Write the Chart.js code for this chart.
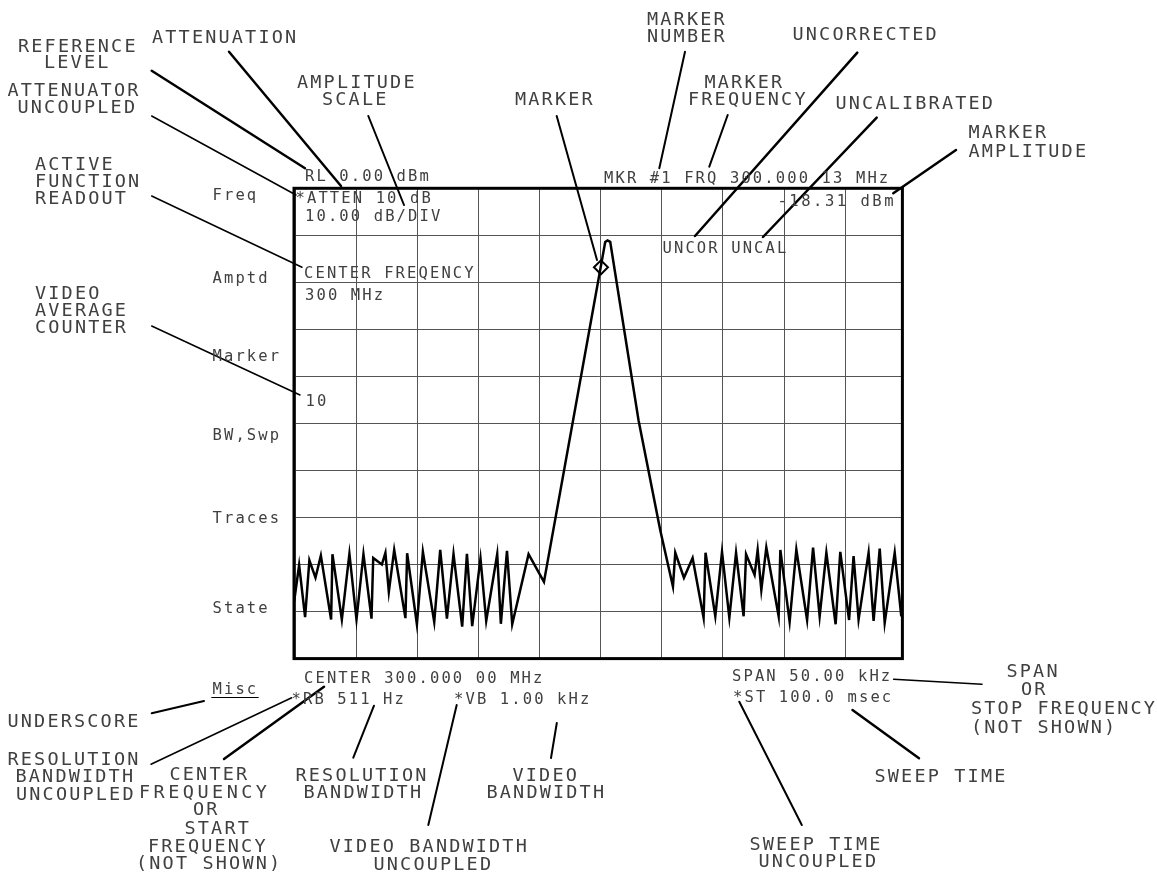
<!DOCTYPE html>
<html><head><meta charset="utf-8">
<script src="https://cdn.jsdelivr.net/npm/chart.js@4.4.1/dist/chart.umd.min.js"></script>
<style>html,body{margin:0;padding:0;background:#fff;overflow:hidden}canvas{display:block}</style>
</head><body>
<canvas id="c" width="1157" height="875" style="width:1157px;height:875px"></canvas>
<script>
// ---- data: frequency offset from 300 MHz center (kHz) and trace amplitude (dBm)
const freqOffsetKHz = [
 -25.14,-24.73,-24.24,-23.89,-23.39,-22.95,-22.11,-22.0,-21.23,-20.61,
 -20.03,-19.46,-18.8,-18.66,-17.95,-17.66,-17.38,-16.94,-16.02,-15.88,
 -15.08,-14.59,-13.66,-13.17,-12.62,-12.08,-11.37,-10.98,-10.55,-9.87,
 -9.4,-8.5,-8.2,-7.7,-7.27,-5.93,-4.67,
 0.35,0.54,0.76,1.58,3.08,4.86,5.9,
 6.09,6.8,7.51,8.41,8.57,9.37,9.92,10.52,11.07,11.69,
 11.89,12.59,12.84,13.14,13.55,14.56,14.7,15.46,16.01,16.89,
 17.38,17.92,18.47,19.23,19.61,20.33,20.7,21.11,21.93,22.34,
 22.84,23.25,24.07,24.61
];
const amplitudeDBm = [
 -87.9,-80.1,-91.2,-79.1,-82.8,-78.1,-91.7,-77.8,-91.7,-77.7,
 -91.7,-77.8,-91.5,-78.6,-80.0,-77.5,-85.8,-76.9,-91.4,-77.6,
 -92.7,-77.3,-92.2,-76.9,-91.5,-77.8,-93.2,-77.7,-93.1,-78.7,
 -92.0,-77.8,-92.6,-77.1,-92.7,-77.8,-83.7,
 -11.4,-11.1,-11.4,-24.8,-49.3,-72.7,-84.7,
 -77.5,-82.8,-78.6,-91.3,-77.5,-91.0,-77.3,-91.3,-77.5,-91.0,
 -77.8,-82.2,-76.9,-85.4,-76.4,-91.0,-76.9,-92.2,-76.8,-91.8,
 -76.4,-91.0,-77.5,-92.7,-77.3,-91.8,-78.2,-91.7,-77.5,-92.0,
 -76.6,-92.4,-77.5,-91.0
];
const markerFreqKHz = [0.0];
const markerAmpDBm = [-16.8];
const xGridTicks = [-25,-20,-15,-10,-5,0,5,10,15,20];
const yGridTicks = [-100,-90,-80,-70,-60,-50,-40,-30,-20,-10];
const xRange = [-25.15, 24.7];
const yRange = [-100, 0];

// ---- annotation layout (text, left x, baseline y, optional width)
const bigLabels = [
 ["ATTENUATION",152,43],["REFERENCE",18,52],["LEVEL",44,67.5],
 ["ATTENUATOR",7.5,96],["UNCOUPLED",17.5,113],
 ["ACTIVE",35,169.5],["FUNCTION",35,187],["READOUT",35,203.5],
 ["AMPLITUDE",297,88],["SCALE",322,105],["MARKER",515,105],
 ["MARKER",647,24.5],["NUMBER",647,41.5],
 ["MARKER",704.5,88],["FREQUENCY",688,105],
 ["UNCORRECTED",792.5,40],["UNCALIBRATED",835.5,108.5],
 ["MARKER",968.5,138],["AMPLITUDE",968.5,157],
 ["VIDEO",35,298.5],["AVERAGE",35,316],["COUNTER",35,333],
 ["UNDERSCORE",7.5,727],
 ["RESOLUTION",7.5,765],["BANDWIDTH",15.5,782],["UNCOUPLED",16,800],
 ["CENTER",169.5,780],["FREQUENCY",139,798,128],["OR",193,815],["START",184.5,833.5],["FREQUENCY",148,852],["(NOT SHOWN)",136,868.5],
 ["RESOLUTION",295.5,781],["BANDWIDTH",303.5,798],
 ["VIDEO",512.5,781],["BANDWIDTH",486.5,798],
 ["VIDEO BANDWIDTH",329.5,852],["UNCOUPLED",373.5,870],
 ["SPAN",1006.5,677],["OR",1021,695],["STOP FREQUENCY",971,714],["(NOT SHOWN)",971,732.5],
 ["SWEEP TIME",874.5,782],
 ["SWEEP TIME",749.5,849.5],["UNCOUPLED",758.5,867]
];
const screenLabels = [
 ["RL 0.00 dBm",305,181],["*ATTEN 10 dB",295.5,202.7],["10.00 dB/DIV",305,221],
 ["CENTER FREQENCY",304,277.5],["300 MHz",305,300],["10",305.5,406],
 ["MKR #1 FRQ 300.000 13 MHz",604,183.3],["-18.31 dBm",777.5,205.7,116],["UNCOR UNCAL",662.5,253.3],
 ["CENTER 300.000 00 MHz",304,683.3],["*RB 511 Hz",291.5,704.3],["*VB 1.00 kHz",454,704.3],
 ["SPAN 50.00 kHz",732,680.7],["*ST 100.0 msec",733,701.7],
 ["Freq",212.5,200],["Amptd",212.5,282.7],["Marker",212.5,361],["BW,Swp",212.5,440],
 ["Traces",212.5,522.7],["State",212.5,613.3],["Misc",212.5,694.3]
];
const leaders = [
 [151.7,70.7,305,168.3,2.5],[229,51.7,341,186,2.5],[151.7,116,296,195,1.5],[151.7,196,302,267.3,1.5],
 [368.3,116,404,205,2],[556.7,116,597,260,2],[685,51.7,659.3,168.3,2],[727.7,115,709.3,166.7,2],
 [857.3,52.7,695,236,2.5],[876.7,117.7,763,237,2.5],[956,150,893.3,193.3,2.5],
 [151.7,326,300,395,1.5],[151.7,713.3,204,701,2],[151,764.3,291.7,697.7,1.5],
 [224,759,324,686.7,2.5],[353.3,757.7,374,705.7,2],[428.3,825,456.7,705,2],[551,758,556.8,723,2],
 [893.6,679.3,982,684.3,1.5],[739.3,701.7,801.8,825,2],[852.5,710,919,758.3,2.5],
 [211.7,697.5,258.3,697.5,1]
];

const FONT = '"DejaVu Sans Mono", "Liberation Mono", monospace';
function drawText(ctx, item, size, advance) {
  const [t, x, y, w] = item;
  ctx.font = size + 'px ' + FONT;
  ctx.letterSpacing = '0px';
  const w0 = ctx.measureText(t).width;
  let sp;
  if (w && t.length > 1) {
    sp = (w - w0) / (t.length - 1);
  } else {
    sp = advance - w0 / t.length;
  }
  ctx.letterSpacing = sp.toFixed(2) + 'px';
  ctx.fillText(t, x, y);
  ctx.letterSpacing = '0px';
}

const overlay = {
  id: 'overlay',
  afterDraw(chart) {
    const ctx = chart.ctx;
    const a = chart.chartArea;
    ctx.save();
    ctx.strokeStyle = '#000';
    ctx.lineWidth = 3;
    ctx.strokeRect(a.left, a.top, a.right - a.left, a.bottom - a.top);
    ctx.lineCap = 'round';
    for (const l of leaders) {
      ctx.lineWidth = l[4];
      ctx.beginPath(); ctx.moveTo(l[0], l[1]); ctx.lineTo(l[2], l[3]); ctx.stroke();
    }
    ctx.fillStyle = '#404040';
    ctx.textBaseline = 'alphabetic';
    ctx.textAlign = 'left';
    for (const b of bigLabels) drawText(ctx, b, 18.5, 13.3);
    for (const s of screenLabels) drawText(ctx, s, 15.5, 11.45);
    ctx.restore();
  }
};

const tracePoints = freqOffsetKHz.map((f, i) => ({x: f, y: amplitudeDBm[i]}));
const markerPoints = markerFreqKHz.map((f, i) => ({x: f, y: markerAmpDBm[i]}));

new Chart(document.getElementById('c'), {
  type: 'line',
  data: {
    datasets: [
      {data: tracePoints, borderColor: '#000', borderWidth: 2.5, pointRadius: 0, tension: 0, fill: false, borderJoinStyle: 'miter'},
      {type: 'scatter', data: markerPoints, pointStyle: 'rectRot', pointRadius: 7, borderColor: '#000', borderWidth: 2, backgroundColor: 'rgba(0,0,0,0)', showLine: false}
    ]
  },
  options: {
    responsive: false,
    devicePixelRatio: 1,
    animation: false,
    events: [],
    layout: {autoPadding: false, padding: {left: 294, top: 188.3, right: 1157 - 902.4, bottom: 875 - 658.6}},
    plugins: {legend: {display: false}, tooltip: {enabled: false}, title: {display: false}},
    scales: {
      x: {type: 'linear', min: xRange[0], max: xRange[1],
          afterBuildTicks: s => { s.ticks = xGridTicks.map(v => ({value: v})); },
          ticks: {display: false}, border: {display: false},
          grid: {color: '#555', lineWidth: 1, drawTicks: false}},
      y: {type: 'linear', min: yRange[0], max: yRange[1],
          afterBuildTicks: s => { s.ticks = yGridTicks.map(v => ({value: v})); },
          ticks: {display: false}, border: {display: false},
          grid: {color: '#555', lineWidth: 1, drawTicks: false}}
    }
  },
  plugins: [overlay]
});
</script>
</body></html>
